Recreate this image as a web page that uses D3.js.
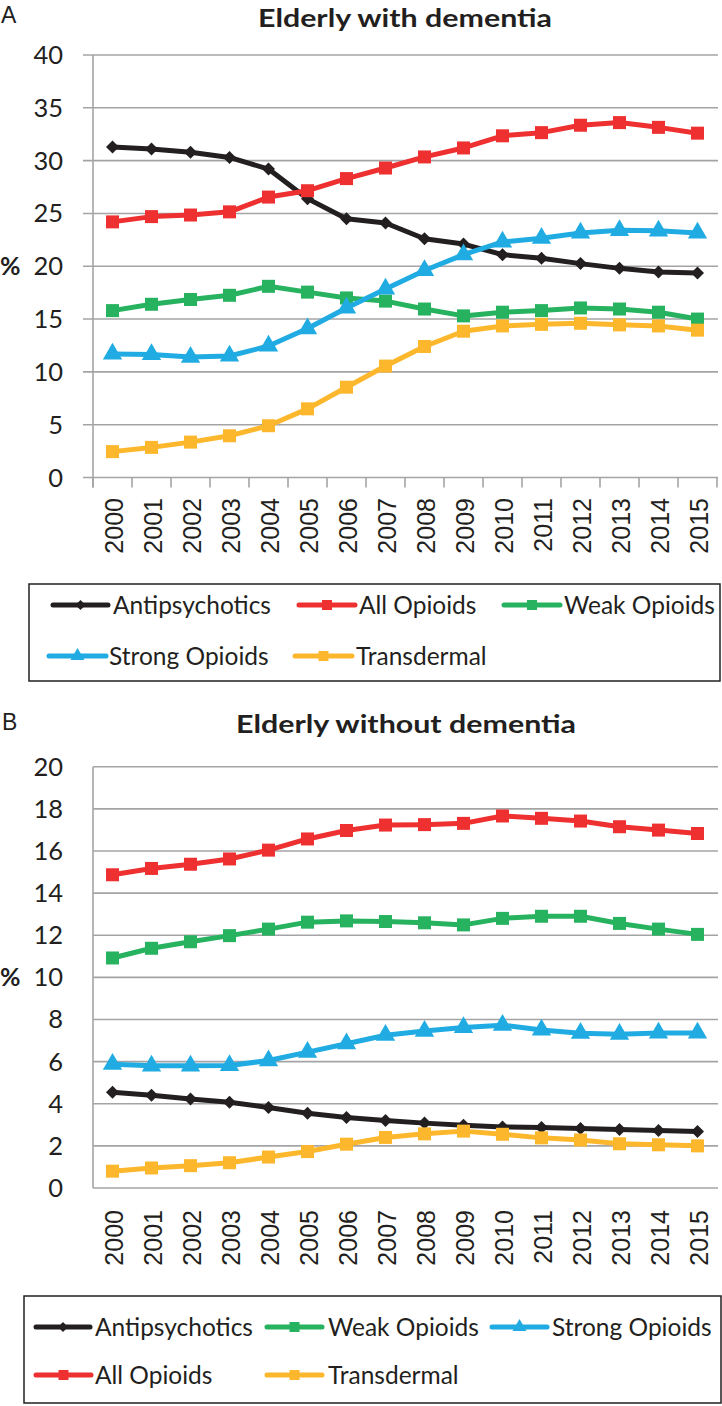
<!DOCTYPE html>
<html><head><meta charset="utf-8">
<script src="https://cdn.jsdelivr.net/npm/d3@7"></script>
<style>body{margin:0;background:#fff}</style>
</head><body>
<svg id="c" width="722" height="1406" xmlns="http://www.w3.org/2000/svg"></svg>
<script>
// ---------- data ----------
const years = ["2000","2001","2002","2003","2004","2005","2006","2007","2008","2009","2010","2011","2012","2013","2014","2015"];
const seriesNames = ["Antipsychotics","All Opioids","Weak Opioids","Strong Opioids","Transdermal"];
const yTicksA = [0,5,10,15,20,25,30,35,40];
const yTicksB = [0,2,4,6,8,10,12,14,16,18,20];

// Panel A: Elderly with dementia (%)
const demAntipsychotics = [31.3,31.1,30.8,30.3,29.2,26.4,24.5,24.1,22.6,22.1,21.1,20.75,20.25,19.8,19.45,19.35];
const demAllOpioids     = [24.2,24.7,24.85,25.15,26.55,27.15,28.3,29.3,30.35,31.2,32.35,32.65,33.35,33.6,33.15,32.6];
const demWeakOpioids    = [15.8,16.4,16.85,17.25,18.1,17.55,17.0,16.7,15.95,15.3,15.65,15.8,16.05,15.95,15.65,15.0];
const demStrongOpioids  = [11.7,11.65,11.4,11.5,12.45,14.1,16.05,17.85,19.6,21.1,22.3,22.65,23.15,23.4,23.35,23.15];
const demTransdermal    = [2.45,2.85,3.35,3.95,4.9,6.5,8.55,10.55,12.4,13.85,14.35,14.5,14.6,14.45,14.35,13.95];

// Panel B: Elderly without dementia (%)
const noDemAntipsychotics = [4.55,4.4,4.22,4.07,3.82,3.55,3.35,3.2,3.08,2.98,2.9,2.87,2.83,2.78,2.73,2.68];
const noDemAllOpioids     = [14.87,15.17,15.37,15.62,16.04,16.57,16.97,17.23,17.25,17.31,17.66,17.55,17.42,17.15,16.99,16.83];
const noDemWeakOpioids    = [10.92,11.38,11.69,11.98,12.29,12.62,12.68,12.65,12.59,12.49,12.8,12.9,12.9,12.56,12.29,12.04];
const noDemStrongOpioids  = [5.88,5.8,5.8,5.82,6.05,6.45,6.85,7.25,7.45,7.62,7.73,7.5,7.35,7.3,7.36,7.36];
const noDemTransdermal    = [0.8,0.95,1.06,1.2,1.47,1.73,2.08,2.4,2.57,2.7,2.55,2.38,2.28,2.1,2.05,2.0];

// ---------- styles ----------
const colors = {"Antipsychotics":"#231f20","All Opioids":"#ee3030","Weak Opioids":"#27b25f","Strong Opioids":"#20ace2","Transdermal":"#fdb72c"};
const shapes = {"Antipsychotics":"diamond","All Opioids":"square","Weak Opioids":"square","Strong Opioids":"triangle","Transdermal":"square"};
const gridColor = "#a4a4a6";
const textColor = "#231f20";

const svg = d3.select("#c");

function markerPath(shape, s) {
  if (shape === "square") return d3.symbol(d3.symbolSquare, s*s)();
  if (shape === "triangle") return d3.symbol(d3.symbolTriangle, s*s*0.5)();
  return d3.symbol(d3.symbolSquare, s*s*0.5)(); // rotated later
}

function drawPanel(cfg) {
  const g = svg.append("g");
  const x = d3.scaleBand().domain(years).range([93, 717]).padding(0);
  const y = d3.scaleLinear().domain([0, cfg.max]).range([cfg.y0, cfg.y1]);

  // gridlines
  g.append("g").selectAll("line").data(cfg.ticks).join("line")
    .attr("x1", cfg.leftTicks ? 83 : 93).attr("x2", 718)
    .attr("y1", d => y(d)).attr("y2", d => y(d))
    .attr("stroke", gridColor).attr("stroke-width", 1.6);
  // y axis line
  g.append("line").attr("x1", 93).attr("x2", 93)
    .attr("y1", y(cfg.max)).attr("y2", cfg.bottomTicks ? y(0) + 10 : y(0))
    .attr("stroke", gridColor).attr("stroke-width", 1.6);
  if (cfg.bottomTicks) {
    g.append("g").selectAll("line").data(d3.range(years.length + 1)).join("line")
      .attr("x1", i => 93 + i * x.bandwidth()).attr("x2", i => 93 + i * x.bandwidth())
      .attr("y1", y(0)).attr("y2", y(0) + 10)
      .attr("stroke", gridColor).attr("stroke-width", 1.6);
  }
  // y tick labels
  g.append("g").selectAll("text").data(cfg.ticks).join("text")
    .attr("x", 63).attr("y", d => y(d) + 9)
    .attr("text-anchor", "end")
    .attr("font-family", "Lato").attr("font-size", 25.5).attr("fill", textColor)
    .text(d => d);
  // year labels
  g.append("g").selectAll("text").data(years).join("text")
    .attr("transform", d => `translate(${x(d) + x.bandwidth()/2 + 10.5},${cfg.yearTop}) rotate(-90)`)
    .attr("text-anchor", "end")
    .attr("font-family", "Liberation Sans").attr("font-size", 25).attr("fill", textColor)
    .text(d => d);
  // % label
  g.append("text").attr("x", 0).attr("y", y(cfg.pctAt) + 9)
    .attr("font-family", "Lato").attr("font-weight", "bold").attr("font-size", 25).attr("fill", textColor)
    .text("%");
  // panel letter
  g.append("text").attr("x", cfg.letterX).attr("y", cfg.letterY)
    .attr("font-family", "Liberation Sans").attr("font-size", 23).attr("fill", textColor)
    .text(cfg.letter);
  // title
  g.append("text").attr("x", cfg.titleX).attr("y", cfg.titleY)
    .attr("font-family", "Lato").attr("font-weight", "bold").attr("font-size", 25).attr("fill", textColor)
    .attr("textLength", cfg.titleLen).attr("lengthAdjust", "spacingAndGlyphs")
    .text(cfg.title);

  // series
  const line = d3.line().x((d, i) => x(years[i]) + x.bandwidth()/2).y(d => y(d));
  cfg.series.forEach((vals, si) => {
    const name = seriesNames[si];
    const sg = g.append("g");
    sg.append("path").attr("d", line(vals)).attr("fill", "none")
      .attr("stroke", colors[name]).attr("stroke-width", 5)
      .attr("stroke-linejoin", "round");
    const shape = shapes[name];
    const size = shape === "diamond" ? 13 : (shape === "triangle" ? 18 : 13);
    sg.selectAll("path.m").data(vals).join("path").attr("class", "m")
      .attr("d", markerPath(shape, size))
      .attr("transform", (d, i) => `translate(${x(years[i]) + x.bandwidth()/2},${y(d)})` + (shape === "diamond" ? " rotate(45)" : ""))
      .attr("fill", colors[name]);
  });

  // legend
  g.append("rect").attr("x", cfg.legBox[0]).attr("y", cfg.legBox[1])
    .attr("width", cfg.legBox[2]).attr("height", cfg.legBox[3])
    .attr("fill", "none").attr("stroke", "#231f20").attr("stroke-width", 1.5);
  const li = g.append("g").selectAll("g").data(cfg.legend).join("g");
  li.append("line").attr("x1", d => d.x1).attr("x2", d => d.x2)
    .attr("y1", d => d.y).attr("y2", d => d.y)
    .attr("stroke", d => colors[d.name]).attr("stroke-width", 5).attr("stroke-linecap", "round");
  li.append("path")
    .attr("d", d => markerPath(shapes[d.name], shapes[d.name] === "triangle" ? 13 : 10))
    .attr("transform", d => `translate(${(d.x1 + d.x2)/2},${d.y})` + (shapes[d.name] === "diamond" ? " rotate(45)" : ""))
    .attr("fill", d => colors[d.name]);
  li.append("text").attr("x", d => d.tx).attr("y", d => d.y + 8.7)
    .attr("font-family", "Lato").attr("font-size", 24.5).attr("fill", textColor)
    .text(d => d.name);
}

drawPanel({
  max: 40, y0: 477.5, y1: 55, ticks: yTicksA, leftTicks: true, bottomTicks: true,
  yearTop: 498, pctAt: 20, letter: "A", letterX: 1, letterY: 23,
  title: "Elderly with dementia", titleX: 258, titleY: 27, titleLen: 294,
  series: [demAntipsychotics, demAllOpioids, demWeakOpioids, demStrongOpioids, demTransdermal],
  legBox: [29, 584, 691, 97],
  legend: [
    {name: "Antipsychotics", x1: 53, x2: 108, tx: 113, y: 605},
    {name: "All Opioids", x1: 299, x2: 355, tx: 359, y: 605},
    {name: "Weak Opioids", x1: 504, x2: 560, tx: 564, y: 605},
    {name: "Strong Opioids", x1: 49, x2: 106, tx: 109, y: 656},
    {name: "Transdermal", x1: 295, x2: 352, tx: 356, y: 656}
  ]
});

drawPanel({
  max: 20, y0: 1188, y1: 766.7, ticks: yTicksB, leftTicks: false, bottomTicks: false,
  yearTop: 1210, pctAt: 10, letter: "B", letterX: 2, letterY: 730,
  title: "Elderly without dementia", titleX: 236, titleY: 733, titleLen: 340,
  series: [noDemAntipsychotics, noDemAllOpioids, noDemWeakOpioids, noDemStrongOpioids, noDemTransdermal],
  legBox: [24, 1296, 697, 107],
  legend: [
    {name: "Antipsychotics", x1: 36, x2: 90, tx: 95, y: 1327},
    {name: "Weak Opioids", x1: 267, x2: 322, tx: 328, y: 1327},
    {name: "Strong Opioids", x1: 492, x2: 547, tx: 552, y: 1327},
    {name: "All Opioids", x1: 36, x2: 91, tx: 95, y: 1375},
    {name: "Transdermal", x1: 267, x2: 322, tx: 328, y: 1375}
  ]
});
</script>
</body></html>
